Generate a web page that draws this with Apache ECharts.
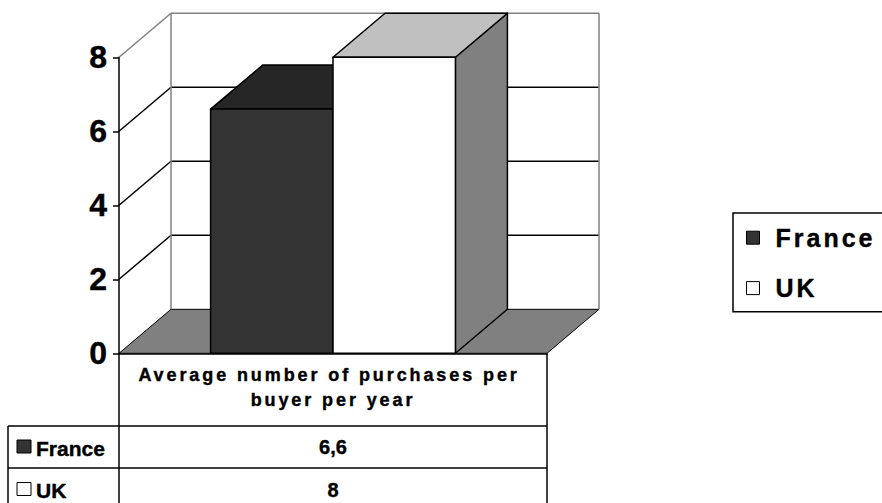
<!DOCTYPE html>
<html>
<head>
<meta charset="utf-8">
<script src="https://cdn.jsdelivr.net/npm/echarts@6/dist/echarts.min.js"></script>
<style>
  html, body { margin: 0; padding: 0; background: #ffffff; }
  #chart { width: 882px; height: 503px; }
  /* spaced-out lettering for the category caption and the legend */
  #chart text[style*="18px"] { letter-spacing: 2.9px; }
  #chart text[style*="25px"] { letter-spacing: 3px; }
</style>
</head>
<body>
<div id="chart"></div>
<script>
// Chart data
const categories = ['Average number of purchases per buyer per year'];
const seriesNames = ['France', 'UK'];
const franceValues = [6.6];
const ukValues = [8];
const yTicks = [0, 2, 4, 6, 8];

// Layout of the plot and data table
const FONT = '"Liberation Sans", Arial, Helvetica, sans-serif';
const PLOT = { left: 119, right: 547, top: 57.3, bottom: 353.3 };
const DEPTH = [52, -44];          // receding direction of the 3D box
const BAR_FRAC = 0.286;           // share of the category band per bar
const TABLE = { left: 8, rows: [353.3, 426, 468, 511] };
const HEAVY = { textBorderColor: '#000000', textBorderWidth: 0.4 };   // label options
const HEAVY_TEXT = { stroke: '#000000', lineWidth: 0.4 };            // graphic text style

const palettes = {
  France: { front: '#333333', top: '#262626', side: '#1c1c1c' },
  UK: { front: '#ffffff', top: '#c0c0c0', side: '#808080' }
};

const fmt = v => String(v).replace('.', ',');

// Walls and floor of the 3D plot area, laid out from the axis scales
function renderWalls(params, api) {
  const band = api.size([1, 0])[0];
  const c = api.coord([0, 0]);
  const xl = c[0] - band / 2, xr = c[0] + band / 2;
  const dx = DEPTH[0], dy = DEPTH[1];
  const yOf = v => api.coord([0, v])[1];
  const y0 = yOf(0);
  const maxTick = yTicks[yTicks.length - 1];
  const yTop = yOf(maxTick);
  const grey = '#808080';
  const children = [];
  children.push({
    type: 'polygon',
    shape: { points: [[xl, y0], [xr, y0], [xr + dx, y0 + dy], [xl + dx, y0 + dy]] },
    style: { fill: '#808080', stroke: '#000000', lineWidth: 1 }
  });
  yTicks.forEach(t => {
    if (t === 0) return;
    const y = yOf(t);
    const stroke = t === maxTick ? grey : '#000000';
    children.push({ type: 'line', shape: { x1: xl + dx, y1: y + dy, x2: xr + dx, y2: y + dy }, style: { stroke, lineWidth: 1.5 } });
    children.push({ type: 'line', shape: { x1: xl, y1: y, x2: xl + dx, y2: y + dy }, style: { stroke, lineWidth: 1.5 } });
  });
  children.push({ type: 'line', shape: { x1: xl + dx, y1: y0 + dy, x2: xl + dx, y2: yTop + dy }, style: { stroke: grey, lineWidth: 1.5 } });
  children.push({ type: 'line', shape: { x1: xr + dx, y1: y0 + dy, x2: xr + dx, y2: yTop + dy }, style: { stroke: grey, lineWidth: 1.5 } });
  return { type: 'group', children };
}

// 3D column: front face, top face and right side face
function barRenderer(slot, palette) {
  return function (params, api) {
    const cat = api.value(0), v = api.value(1);
    const base = api.coord([cat, 0]);
    const top = api.coord([cat, v]);
    const w = api.size([1, 0])[0] * BAR_FRAC;
    const x0 = base[0] + (slot - 1) * w, x1 = x0 + w;
    const y0 = base[1], y1 = top[1];
    const dx = DEPTH[0], dy = DEPTH[1];
    const edge = { stroke: '#000000', lineWidth: 1.5, lineJoin: 'round' };
    return {
      type: 'group',
      children: [
        { type: 'polygon', shape: { points: [[x1, y0], [x1 + dx, y0 + dy], [x1 + dx, y1 + dy], [x1, y1]] },
          style: Object.assign({ fill: palette.side }, edge) },
        { type: 'polygon', shape: { points: [[x0, y1], [x1, y1], [x1 + dx, y1 + dy], [x0 + dx, y1 + dy]] },
          style: Object.assign({ fill: palette.top }, edge) },
        { type: 'rect', shape: { x: x0, y: y1, width: w, height: y0 - y1 },
          style: Object.assign({ fill: palette.front }, edge) }
      ]
    };
  };
}

// Data table under the plot
function tableGraphics() {
  const r = TABLE.rows;
  const els = [];
  const ln = (x1, y1, x2, y2) => els.push({ type: 'line', shape: { x1, y1, x2, y2 }, style: { stroke: '#000000', lineWidth: 1.5 } });
  ln(PLOT.left, r[0], PLOT.left, r[3]);
  ln(PLOT.right, r[0], PLOT.right, r[3]);
  ln(TABLE.left, r[1], TABLE.left, r[3]);
  ln(TABLE.left, r[1], PLOT.right, r[1]);
  ln(TABLE.left, r[2], PLOT.right, r[2]);
  ln(TABLE.left, r[3], PLOT.right, r[3]);
  const rowValues = [franceValues, ukValues];
  seriesNames.forEach((name, i) => {
    const cy = (r[i + 1] + r[i + 2]) / 2;
    els.push({ type: 'rect', shape: { x: 17, y: cy - 7, width: 14, height: 13 },
      style: { fill: palettes[name].front, stroke: '#000000', lineWidth: 1 } });
    els.push({ type: 'text', x: 36, y: cy + 1,
      style: Object.assign({ text: name, font: 'bold 21px ' + FONT, fill: '#000000', align: 'left', verticalAlign: 'middle' }, HEAVY_TEXT) });
    els.push({ type: 'text', x: (PLOT.left + PLOT.right) / 2, y: cy,
      style: Object.assign({ text: fmt(rowValues[i][0]), font: 'bold 20px ' + FONT, fill: '#000000', align: 'center', verticalAlign: 'middle' }, HEAVY_TEXT) });
  });
  return els;
}

const chart = echarts.init(document.getElementById('chart'), null, { renderer: 'svg' });

chart.setOption({
  backgroundColor: '#ffffff',
  animation: false,
  textStyle: { fontFamily: FONT },
  grid: {
    left: PLOT.left, top: PLOT.top,
    width: PLOT.right - PLOT.left, height: PLOT.bottom - PLOT.top,
    containLabel: false, outerBoundsMode: 'none'
  },
  legend: {
    orient: 'vertical',
    left: 733, top: 213,
    padding: [12, 80, 11, 13],
    itemWidth: 13, itemHeight: 13, itemGap: 25,
    icon: 'rect',
    selectedMode: false,
    borderColor: '#000000', borderWidth: 1.5,
    itemStyle: { borderColor: '#000000', borderWidth: 1 },
    textStyle: Object.assign({ fontSize: 25, fontWeight: 'bold', color: '#000000', fontFamily: FONT, padding: [0, 0, 0, 11] }, HEAVY),
    data: seriesNames
  },
  xAxis: {
    type: 'category',
    data: categories,
    axisLine: { show: true, lineStyle: { color: '#000000', width: 1.5 } },
    axisTick: { show: false },
    splitLine: { show: false },
    axisLabel: Object.assign({
      color: '#000000', fontSize: 18, fontWeight: 'bold', fontFamily: FONT,
      lineHeight: 25, margin: 9, width: 310, overflow: 'break', interval: 0
    }, HEAVY)
  },
  yAxis: {
    type: 'value',
    min: 0, max: 8, interval: 2,
    axisLine: { show: true, lineStyle: { color: '#000000', width: 1.5 } },
    axisTick: { show: true, length: 6, lineStyle: { color: '#000000', width: 1.5 } },
    splitLine: { show: false },
    axisLabel: Object.assign({ color: '#000000', fontSize: 32, fontWeight: 'bold', fontFamily: FONT, margin: 12 }, HEAVY)
  },
  series: [
    {
      type: 'custom',
      renderItem: renderWalls,
      data: [[0, 0]],
      clip: false, silent: true, z: 1
    },
    {
      name: 'France', type: 'custom',
      renderItem: barRenderer(0, palettes.France),
      itemStyle: { color: palettes.France.front },
      data: franceValues.map((v, i) => [i, v]),
      encode: { x: 0, y: 1 }, clip: false, z: 2
    },
    {
      name: 'UK', type: 'custom',
      renderItem: barRenderer(1, palettes.UK),
      itemStyle: { color: palettes.UK.front },
      data: ukValues.map((v, i) => [i, v]),
      encode: { x: 0, y: 1 }, clip: false, z: 3
    }
  ],
  graphic: tableGraphics()
});
</script>
</body>
</html>
